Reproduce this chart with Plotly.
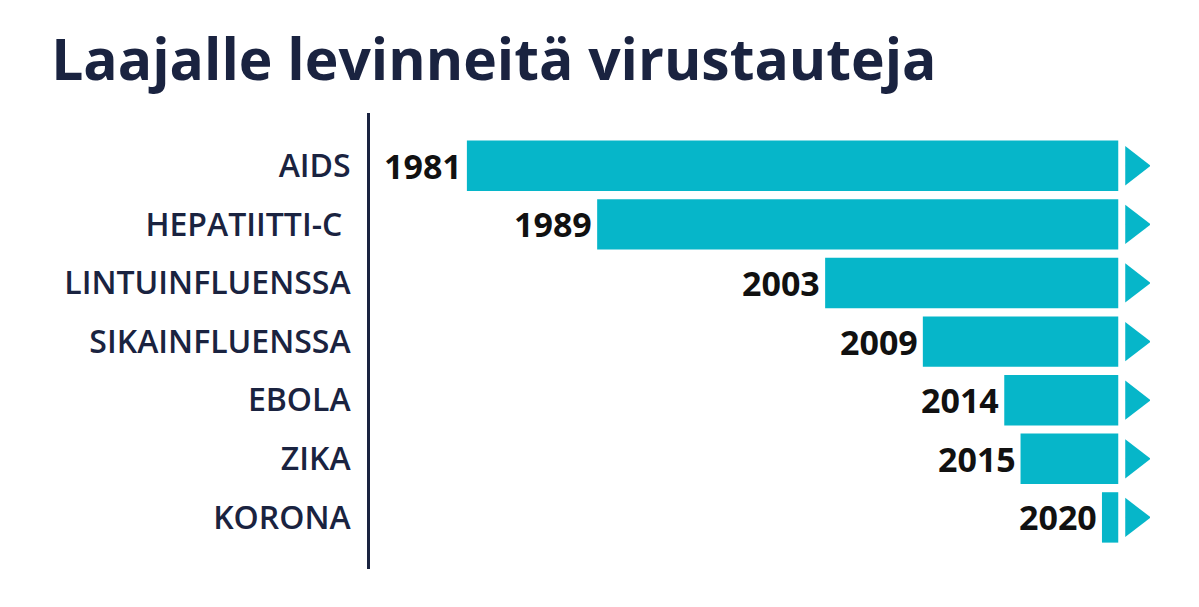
import plotly.graph_objects as go

diseases = ["AIDS", "HEPATIITTI-C ", "LINTUINFLUENSSA", "SIKAINFLUENSSA", "EBOLA", "ZIKA", "KORONA"]
years = [1981, 1989, 2003, 2009, 2014, 2015, 2020]
end_year = 2021
color = "#06b6c9"

fig = go.Figure()
fig.add_trace(go.Bar(
    y=diseases, x=[end_year - y for y in years], base=years, orientation="h",
    marker=dict(color=color, line=dict(width=0)), width=0.86, showlegend=False,
))
fig.add_trace(go.Scatter(
    y=diseases, x=[end_year + 0.95] * len(diseases), mode="markers",
    marker=dict(symbol="triangle-right", size=34, color=color), showlegend=False,
))
for d, y in zip(diseases, years):
    fig.add_annotation(x=y, y=d, text=f"<b>{y}</b>", showarrow=False, xanchor="right",
                       xshift=-3, font=dict(family="Open Sans", size=34, color="#111111"))

fig.update_layout(
    width=1199, height=607, plot_bgcolor="white", paper_bgcolor="white",
    margin=dict(l=362, r=57, t=105, b=46),
    title=dict(text="<b>Laajalle levinneitä virustauteja</b>", x=0.036, xanchor="left",
               y=0.915, yanchor="middle", font=dict(family="Open Sans", size=57, color="#1a2340")),
    xaxis=dict(range=[1975.05, 2022.95], visible=False),
    yaxis=dict(range=[6.88, -0.9], showline=True, linecolor="#1a2340", linewidth=3,
               ticks="", tickfont=dict(family="Open Sans", size=32, color="#1a2340", weight=600),
               ticklabelstandoff=10, showgrid=False),
)
fig.write_html("out.html")
